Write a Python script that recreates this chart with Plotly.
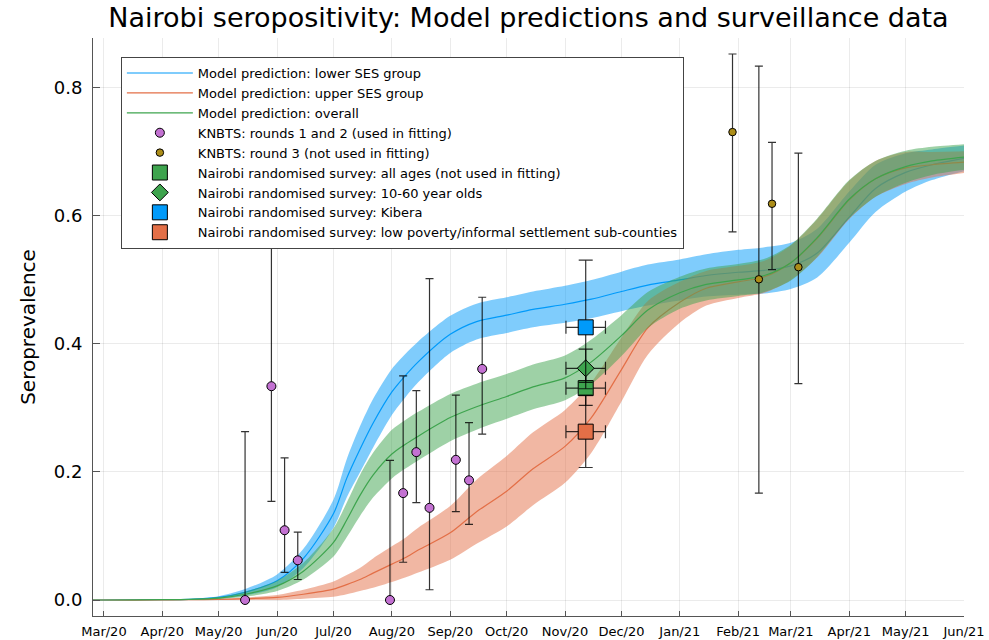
import pandas as pd
import plotly.graph_objects as go

# ---------------- data ----------------
model_dates = ["2020-02-24", "2020-03-01", "2020-04-01", "2020-04-15", "2020-05-01", "2020-05-15",
               "2020-06-01", "2020-06-15", "2020-07-01", "2020-07-08", "2020-07-15", "2020-07-22",
               "2020-08-01", "2020-08-08", "2020-08-15", "2020-09-01", "2020-09-15", "2020-10-01",
               "2020-10-15", "2020-11-01", "2020-11-15", "2020-12-01", "2020-12-15", "2021-01-01",
               "2021-01-15", "2021-02-01", "2021-02-15", "2021-03-01", "2021-03-15", "2021-04-01",
               "2021-04-15", "2021-05-01", "2021-05-15", "2021-06-01"]

lower_ses_mid = [0, 0, 0.0005, 0.001, 0.004, 0.012, 0.03, 0.065, 0.135, 0.19, 0.235, 0.276, 0.325,
                 0.35, 0.372, 0.415, 0.435, 0.445, 0.454, 0.462, 0.47, 0.482, 0.492, 0.5, 0.507,
                 0.512, 0.515, 0.522, 0.542, 0.598, 0.643, 0.668, 0.68, 0.69]
lower_ses_half = [0, 0, 0, 0.0005, 0.002, 0.005, 0.01, 0.015, 0.022, 0.03, 0.036, 0.038, 0.036,
                  0.034, 0.032, 0.029, 0.028, 0.028, 0.028, 0.029, 0.03, 0.031, 0.032, 0.032, 0.033,
                  0.035, 0.036, 0.036, 0.038, 0.04, 0.037, 0.03, 0.024, 0.02]

upper_ses_mid = [0, 0, 0, 0.0005, 0.001, 0.002, 0.004, 0.009, 0.017, 0.024, 0.032, 0.042, 0.056,
                 0.066, 0.078, 0.105, 0.138, 0.17, 0.205, 0.24, 0.285, 0.36, 0.425, 0.465, 0.487,
                 0.497, 0.505, 0.527, 0.565, 0.625, 0.658, 0.675, 0.68, 0.684]
upper_ses_half = [0, 0, 0, 0.0003, 0.001, 0.002, 0.004, 0.007, 0.012, 0.015, 0.018, 0.023, 0.028,
                  0.031, 0.035, 0.042, 0.05, 0.055, 0.057, 0.057, 0.055, 0.05, 0.042, 0.032, 0.027,
                  0.025, 0.025, 0.027, 0.03, 0.03, 0.028, 0.025, 0.02, 0.017]

overall_mid = [0, 0, 0.0005, 0.001, 0.003, 0.009, 0.022, 0.045, 0.09, 0.125, 0.163, 0.195, 0.228,
               0.243, 0.256, 0.285, 0.302, 0.318, 0.333, 0.347, 0.372, 0.413, 0.453, 0.48, 0.493,
               0.5, 0.507, 0.527, 0.566, 0.626, 0.658, 0.677, 0.686, 0.692]
overall_half = [0, 0, 0, 0.0005, 0.0015, 0.004, 0.008, 0.013, 0.022, 0.027, 0.032, 0.035, 0.038,
                0.038, 0.038, 0.037, 0.036, 0.035, 0.035, 0.035, 0.035, 0.032, 0.028, 0.025, 0.025,
                0.025, 0.026, 0.028, 0.03, 0.03, 0.028, 0.025, 0.022, 0.02]

knbts12_dates = ["2020-05-15", "2020-05-29", "2020-06-05", "2020-06-12", "2020-07-31", "2020-08-07",
                 "2020-08-14", "2020-08-21", "2020-09-04", "2020-09-11", "2020-09-18"]
knbts12_values = [0.0, 0.334, 0.109, 0.062, 0.0, 0.167, 0.231, 0.144, 0.219, 0.187, 0.361]
knbts12_lower = [0.0, 0.154, 0.043, 0.032, 0.0, 0.059, 0.152, 0.016, 0.138, 0.118, 0.259]
knbts12_upper = [0.263, 0.564, 0.222, 0.106, 0.218, 0.35, 0.327, 0.502, 0.32, 0.277, 0.473]

knbts3_dates = ["2021-01-29", "2021-02-12", "2021-02-19", "2021-03-05"]
knbts3_values = [0.731, 0.501, 0.619, 0.52]
knbts3_lower = [0.575, 0.167, 0.516, 0.338]
knbts3_upper = [0.853, 0.834, 0.715, 0.698]

survey_date = "2020-11-12"
survey_halfwidth_days = 10.5
survey_names = ["Nairobi randomised survey: all ages (not used in fitting)",
                "Nairobi randomised survey: 10-60 year olds",
                "Nairobi randomised survey: Kibera",
                "Nairobi randomised survey: low poverty/informal settlement sub-counties"]
survey_values = [0.331, 0.362, 0.426, 0.263]
survey_lower = [0.304, 0.34, 0.33, 0.207]
survey_upper = [0.36, 0.392, 0.531, 0.32]
survey_symbols = ["square", "diamond", "square", "square"]
survey_colors = ["#3EA44E", "#3EA44E", "#009AFA", "#E36F47"]

tick_dates = ["2020-03-01", "2020-04-01", "2020-05-01", "2020-06-01", "2020-07-01", "2020-08-01",
              "2020-09-01", "2020-10-01", "2020-11-01", "2020-12-01", "2021-01-01", "2021-02-01",
              "2021-03-01", "2021-04-01", "2021-05-01", "2021-06-01"]
tick_labels = ["Mar/20", "Apr/20", "May/20", "Jun/20", "Jul/20", "Aug/20", "Sep/20", "Oct/20",
               "Nov/20", "Dec/20", "Jan/21", "Feb/21", "Mar/21", "Apr/21", "May/21", "Jun/21"]

FONT = "DejaVu Sans"
ERR_COLOR = "rgba(0,0,0,0.8)"
BASE = pd.Timestamp("2020-03-01")


def to_days(dates):
    return [(pd.Timestamp(d) - BASE) / pd.Timedelta(days=1) for d in dates]


fig = go.Figure()
mx = to_days(model_dates)


def add_model(mid, half, line_color, fill_color, name):
    lo = [m - h for m, h in zip(mid, half)]
    hi = [m + h for m, h in zip(mid, half)]
    fig.add_trace(go.Scatter(x=mx, y=lo, mode="lines",
                             line=dict(width=0, shape="spline", smoothing=0.8),
                             showlegend=False, hoverinfo="skip"))
    fig.add_trace(go.Scatter(x=mx, y=hi, mode="lines",
                             line=dict(width=0, shape="spline", smoothing=0.8),
                             fill="tonexty", fillcolor=fill_color,
                             showlegend=False, hoverinfo="skip"))
    fig.add_trace(go.Scatter(x=mx, y=mid, mode="lines", name=name,
                             line=dict(width=1.2, color=line_color, shape="spline", smoothing=0.8)))


add_model(lower_ses_mid, lower_ses_half, "#009AFA", "rgba(0,154,250,0.5)",
          "Model prediction: lower SES group")
add_model(upper_ses_mid, upper_ses_half, "#E36F47", "rgba(227,111,71,0.5)",
          "Model prediction: upper SES group")
add_model(overall_mid, overall_half, "#3EA44E", "rgba(62,164,78,0.5)",
          "Model prediction: overall")

fig.add_trace(go.Scatter(
    x=to_days(knbts12_dates), y=knbts12_values, mode="markers",
    name="KNBTS: rounds 1 and 2 (used in fitting)",
    marker=dict(symbol="circle", size=9, color="#C371D2", line=dict(color="black", width=1)),
    error_y=dict(type="data", symmetric=False,
                 array=[u - v for u, v in zip(knbts12_upper, knbts12_values)],
                 arrayminus=[v - l for v, l in zip(knbts12_values, knbts12_lower)],
                 color=ERR_COLOR, thickness=1.2, width=4)))

fig.add_trace(go.Scatter(
    x=to_days(knbts3_dates), y=knbts3_values, mode="markers",
    name="KNBTS: round 3 (not used in fitting)",
    marker=dict(symbol="circle", size=7.5, color="#AC8D18", line=dict(color="black", width=1)),
    error_y=dict(type="data", symmetric=False,
                 array=[u - v for u, v in zip(knbts3_upper, knbts3_values)],
                 arrayminus=[v - l for v, l in zip(knbts3_values, knbts3_lower)],
                 color=ERR_COLOR, thickness=1.2, width=4)))

sx = to_days([survey_date])
for nm, v, lo, hi, sym, col in zip(survey_names, survey_values, survey_lower, survey_upper,
                                   survey_symbols, survey_colors):
    fig.add_trace(go.Scatter(
        x=sx, y=[v], mode="markers", name=nm,
        marker=dict(symbol=sym, size=15 if sym == "square" else 13, color=col,
                    line=dict(color="black", width=1)),
        error_y=dict(type="data", symmetric=False, array=[hi - v], arrayminus=[v - lo],
                     color=ERR_COLOR, thickness=1.2, width=7),
        error_x=dict(type="data", symmetric=True, array=[survey_halfwidth_days],
                     color=ERR_COLOR, thickness=1.2, width=6.5)))

fig.update_layout(
    width=989, height=640,
    margin=dict(l=93, r=25, t=38, b=24),
    paper_bgcolor="white", plot_bgcolor="white",
    font=dict(family=FONT, color="black"),
    title=dict(text="Nairobi seropositivity: Model predictions and surveillance data",
               x=0.5, xref="paper", xanchor="center", y=0.972, yanchor="middle",
               font=dict(size=27, family=FONT)),
    legend=dict(x=0.032, y=0.967, xanchor="left", yanchor="top", traceorder="normal",
                bgcolor="white", bordercolor="#444", borderwidth=1,
                font=dict(size=13, family=FONT), tracegroupgap=0,
                itemwidth=66, itemsizing="trace"),
    showlegend=True,
)

fig.update_xaxes(
    type="linear", range=[-5.8, 457], automargin=False,
    tickvals=to_days(tick_dates), ticktext=tick_labels, tickangle=0,
    tickfont=dict(size=13, family=FONT),
    showgrid=True, gridcolor="rgba(0,0,0,0.08)", gridwidth=1,
    showline=True, linecolor="#555", linewidth=1,
    ticks="inside", ticklen=5, tickcolor="#555",
    ticklabelstandoff=3,
    zeroline=False,
)
fig.update_yaxes(
    range=[-0.025, 0.878],
    tickvals=[0.0, 0.2, 0.4, 0.6, 0.8], ticktext=["0.0", "0.2", "0.4", "0.6", "0.8"],
    tickfont=dict(size=18, family=FONT),
    showgrid=True, gridcolor="rgba(0,0,0,0.08)", gridwidth=1,
    showline=True, linecolor="#555", linewidth=1,
    ticks="inside", ticklen=7, tickcolor="#555",
    ticklabelstandoff=6,
    zeroline=False,
    title=dict(text="Seroprevalence", font=dict(size=20, family=FONT), standoff=12),
)

fig.write_html("out.html")
